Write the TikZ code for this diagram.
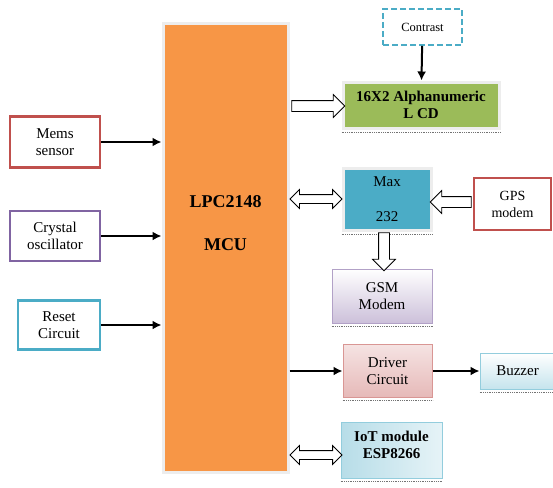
\documentclass[tikz,border=0pt]{standalone}
\usepackage{fontspec}
\setmainfont{Liberation Serif}
\usepackage{xcolor}
\usepackage{tikz}
\usetikzlibrary{shapes.arrows,arrows.meta,positioning,calc}

\definecolor{mcuorange}{HTML}{F79646}
\definecolor{lcdgreen}{HTML}{9BBB59}
\definecolor{maxteal}{HTML}{4BACC6}
\definecolor{redline}{HTML}{C0504D}
\definecolor{purpline}{HTML}{8064A2}
\definecolor{cyanline}{HTML}{4BACC6}
\definecolor{gsmlav}{HTML}{CCC0DA}
\definecolor{gsmline}{HTML}{B2A1C7}
\definecolor{drvpink}{HTML}{E6B9B8}
\definecolor{drvline}{HTML}{D99694}
\definecolor{buzblue}{HTML}{B7DDE8}
\definecolor{buzline}{HTML}{93CDDD}

\begin{document}
\begin{tikzpicture}[x=1pt,y=-1pt,
  blk/.style={rectangle,align=center,font=\fontsize{15}{17}\selectfont,inner sep=2pt},
  inbox/.style={blk,draw=#1,line width=2.4pt,fill=white},
  halo/.style={draw=black!7,line width=3pt},
  dotbase/.style={append after command={([yshift=-2.5pt]\tikzlastnode.south west) edge[densely dotted,black!55,line width=0.8pt] ([yshift=-2.5pt]\tikzlastnode.south east)}},
  arr/.style={-{Latex[length=9pt,width=9pt]},line width=2pt},
  hollow/.style={single arrow,draw,fill=white,line width=0.8pt,inner xsep=0pt,inner ysep=5pt,single arrow head extend=6pt},
  dhollow/.style={double arrow,draw,fill=white,line width=0.8pt,inner xsep=0pt,inner ysep=4pt,double arrow head extend=5pt}]
\useasboundingbox (0,0) rectangle (553,487);
% controller
\node[blk,halo,fill=mcuorange,minimum width=125pt,minimum height=448pt] (mcu) at (225.5,248) {};
\node[font=\bfseries\fontsize{18}{43}\selectfont,align=center] (mcut) at (225.5,223) {LPC2148\\MCU};
% inputs
\node[inbox=redline,minimum width=90pt,minimum height=51pt] (mems) at (55,142) {Mems\\sensor};
\node[inbox=purpline,minimum width=90pt,minimum height=50pt] (xtal) at (55,236) {Crystal\\oscillator};
\node[inbox=cyanline,minimum width=82pt,minimum height=49pt] (rst) at (59,325) {Reset\\Circuit};
% display
\node[blk,draw=cyanline,line width=1.6pt,dash pattern=on 6pt off 3pt,minimum width=79pt,minimum height=36pt,font=\fontsize{12.5}{15}\selectfont] (con) at (422.5,27) {Contrast};
\node[blk,halo,fill=lcdgreen,font=\bfseries\fontsize{15}{17}\selectfont,minimum width=156pt,minimum height=46pt,dotbase] (lcd) at (421,105) {16X2 Alphanumeric\\L CD};
% serial
\node[blk,halo,fill=maxteal,minimum width=88pt,minimum height=62pt,font=\fontsize{15}{35}\selectfont,dotbase] (max) at (387,199) {Max\\232};
\node[inbox=redline,minimum width=77pt,minimum height=52pt,font=\fontsize{14}{17}\selectfont] (gps) at (512.5,204) {GPS\\modem};
\node[blk,draw=gsmline,line width=1pt,top color=white,bottom color=gsmlav,minimum width=100pt,minimum height=54pt,dotbase] (gsm) at (382,296) {GSM\\Modem};
% outputs
\node[blk,draw=drvline,line width=1pt,top color=drvpink!40,bottom color=drvpink,minimum width=89pt,minimum height=53pt,dotbase] (drv) at (387.5,371) {Driver\\Circuit};
\node[blk,draw=buzline,line width=1pt,top color=white,bottom color=buzblue!80,minimum width=75pt,minimum height=36pt,dotbase] (buz) at (517.5,371) {Buzzer};
\node[blk,draw=buzline,line width=1pt,left color=buzblue,right color=buzblue!35,font=\bfseries\fontsize{15}{17}\selectfont,minimum width=101pt,minimum height=56pt,text depth=10pt,dotbase] (iot) at (391.5,450) {IoT module\\ESP8266};
% plain arrows
\draw[arr] (mems) -- (mems -| mcu.west);
\draw[arr] (xtal) -- (xtal -| mcu.west);
\draw[arr] (rst) -- (rst -| mcu.west);
\draw[arr] (con) -- (lcd);
\draw[arr] (drv -| mcu.east) -- (drv);
\draw[arr] (drv) -- (buz);
% block arrows
\node[hollow,minimum height=53pt] (b1) at (315.5,106) {};
\node[dhollow,minimum height=52pt] (b2) at (316,199) {};
\node[hollow,rotate=180,minimum height=41pt] (b3) at (453.5,202) {};
\node[hollow,rotate=-90,minimum height=38pt] (b4) at (384,249) {};
\node[dhollow,minimum height=52pt] (b5) at (316,455) {};
\end{tikzpicture}
\end{document}
